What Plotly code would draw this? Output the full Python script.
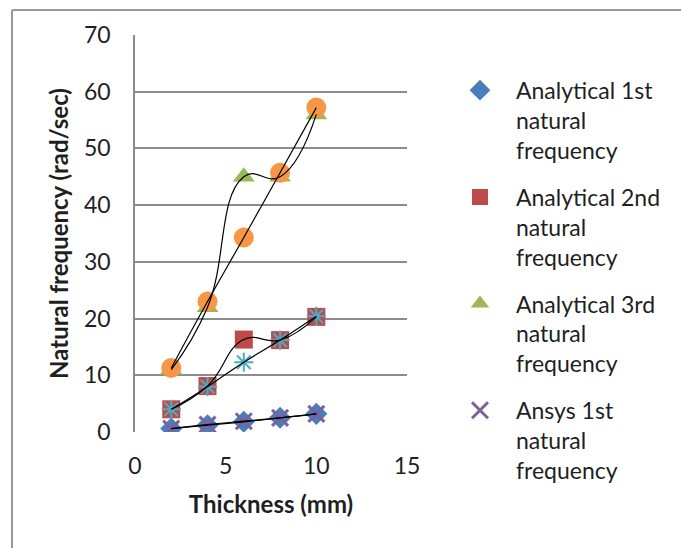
import plotly.graph_objects as go

thickness = [2, 4, 6, 8, 10]
analytical_1st = [0.6, 1.2, 1.8, 2.5, 3.2]
analytical_2nd = [4.0, 8.1, 16.3, 16.2, 20.3]
analytical_3rd = [11.0, 22.0, 45.0, 45.0, 56.0]
ansys_1st = [0.6, 1.3, 1.9, 2.5, 3.2]
ansys_2nd = [4.0, 8.0, 12.3, 16.2, 20.4]
ansys_3rd = [11.3, 23.0, 34.3, 45.7, 57.2]

names = ["Analytical 1st<br>natural<br>frequency",
         "Analytical 2nd<br>natural<br>frequency",
         "Analytical 3rd<br>natural<br>frequency",
         "Ansys 1st<br>natural<br>frequency",
         "Ansys 2nd<br>natural<br>frequency",
         "Ansys 3rd<br>natural<br>frequency"]

FONT = "Lato"
TXT = "#1f1f1f"
fig = go.Figure()

series = [
    (analytical_1st, names[0], dict(symbol="diamond", size=17, color="#4a7ebb"), True),
    (analytical_2nd, names[1], dict(symbol="square", size=18, color="#be4b48"), True),
    (analytical_3rd, names[2], dict(symbol="triangle-up", size=19, color="#98b954"), True),
    (ansys_1st, names[3], dict(symbol="x-thin", size=16, color="#7d60a0",
                               line=dict(color="#7d60a0", width=3)), True),
    (ansys_2nd, names[4], dict(symbol="asterisk-open", size=16, color="#4bacc6",
                               line=dict(color="#4bacc6", width=2)), False),
    (ansys_3rd, names[5], dict(symbol="circle", size=20, color="#f79646"), False),
]
for i, (ys, nm, mk, sl) in enumerate(series):
    fig.add_trace(go.Scatter(x=thickness, y=ys, mode="markers", name=nm,
                             marker=mk, showlegend=sl, legendgroup=f"g{i}"))

# smoothed black connecting lines
for ys in [analytical_1st, analytical_2nd, analytical_3rd, ansys_1st, ansys_2nd, ansys_3rd]:
    fig.add_trace(go.Scatter(x=thickness, y=ys, mode="lines", showlegend=False,
                             line=dict(color="black", width=1.2, shape="spline", smoothing=1.3),
                             hoverinfo="skip"))

fig.update_layout(
    width=681, height=548,
    margin=dict(l=135, r=274, t=35, b=116),
    paper_bgcolor="white", plot_bgcolor="white",
    font=dict(family=FONT, size=23, color=TXT),
    showlegend=True,
    legend=dict(x=1.136, y=0.915, xanchor="left", yanchor="top", valign="top",
                font=dict(family=FONT, size=23, color=TXT), itemwidth=62,
                tracegroupgap=14, itemsizing="trace", bgcolor="rgba(0,0,0,0)",
                maxheight=700),
    xaxis=dict(range=[0, 15], tickvals=[0, 5, 10, 15], showgrid=False, zeroline=False,
               showline=False, ticks="", ticklabelstandoff=18,
               title=dict(text="<b>Thickness (mm)</b>", font=dict(family=FONT, size=24), standoff=18)),
    yaxis=dict(range=[0, 70], tickvals=[0, 10, 20, 30, 40, 50, 60, 70], showgrid=True,
               gridcolor="#8c8c8c", gridwidth=1.5, zeroline=False,
               showline=True, linecolor="#8c8c8c", linewidth=1.5, ticks="", ticklabelstandoff=18,
               title=dict(text="<b>Natural frequency (rad/sec)</b>", font=dict(family=FONT, size=24), standoff=9)),
    shapes=[
        dict(type="line", xref="paper", yref="paper", x0=(12-135)/272, x1=(12-135)/272,
             y0=(432-10)/397, y1=-1, line=dict(color="#999999", width=2)),
        dict(type="line", xref="paper", yref="paper", x0=(12-135)/272, x1=3,
             y0=(432-10)/397, y1=(432-10)/397, line=dict(color="#999999", width=2)),
    ],
)

fig.write_html("out.html")
